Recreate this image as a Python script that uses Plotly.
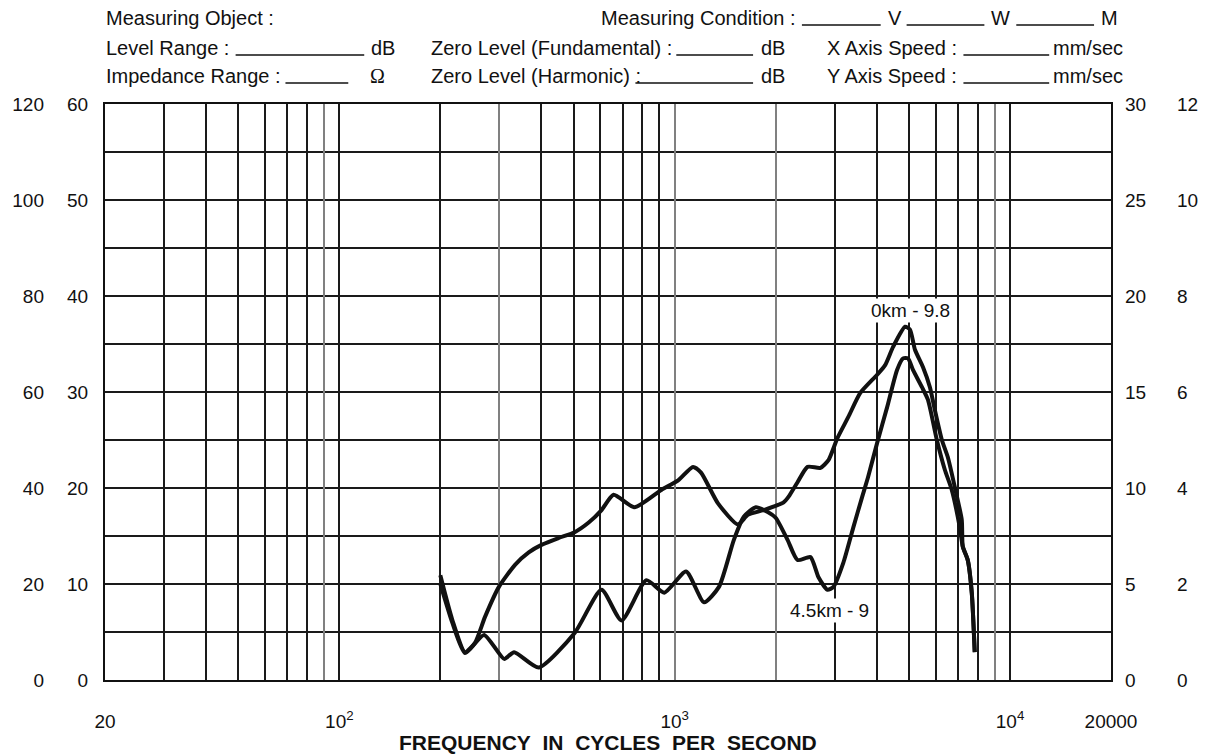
import math
import plotly.graph_objects as go

# ---------------- data ----------------
freq_0km = [200, 217, 237, 254, 272, 299, 334, 367, 402, 451, 503, 554, 605, 657, 758, 912,
            1024, 1134, 1198, 1346, 1543, 1652, 1843, 2112, 2186, 2324, 2490, 2720, 2874,
            3056, 3294, 3576, 4015, 4241, 4479, 4862, 5031, 5206, 5498, 5768, 5969, 6261,
            6524, 6842, 7177, 7228, 7478, 7687, 7846]
level_0km = [10.9, 6.3, 2.9, 3.9, 6.6, 9.7, 12.0, 13.3, 14.1, 14.8, 15.4, 16.4, 17.7, 19.3, 18.0, 19.8,
             20.8, 22.2, 21.6, 18.4, 16.2, 17.2, 17.7, 18.5, 19.1, 20.6, 22.2, 22.1, 22.9,
             25.2, 27.4, 29.9, 31.8, 32.8, 34.7, 36.8, 36.5, 34.4, 32.6, 30.5, 28.1, 25.0,
             23.2, 20.1, 16.7, 13.9, 12.5, 9.1, 2.9]

freq_45km = [200, 217, 237, 270, 310, 332, 393, 503, 605, 694, 823, 931, 1081, 1223, 1355, 1501,
             1607, 1745, 1894, 2000, 2170, 2324, 2540, 2684, 2854, 2974, 3182, 3409, 3624,
             3776, 4015, 4298, 4603, 4798, 4963, 5135, 5462, 5689, 6050, 6390, 6702, 7080,
             7228, 7478, 7687, 7846]
level_45km = [10.0, 6.0, 2.8, 4.7, 2.2, 2.9, 1.3, 4.9, 9.4, 6.2, 10.4, 9.1, 11.3, 8.1, 9.7, 14.6,
              17.0, 18.0, 17.5, 16.9, 14.6, 12.5, 12.8, 10.7, 9.4, 9.7, 12.2, 15.9, 19.1,
              21.2, 24.7, 28.4, 32.3, 33.5, 33.5, 32.3, 30.5, 29.2, 25.0, 21.9, 19.8, 15.9,
              13.9, 12.5, 9.1, 2.9]

series_names = ["0km - 9.8", "4.5km - 9"]

x_major = [20, 100, 1000, 10000, 20000]
x_major_text = ["20", "10<sup>2</sup>", "10<sup>3</sup>", "10<sup>4</sup>", "20000"]
# printed chart grid: most rulings dark, a few printed lighter
x_grid_dark = [30, 40, 50, 60, 70, 80, 100, 200, 400, 500, 600, 700, 800, 900,
               3000, 4000, 5000, 6000, 7000, 8000, 10000]
x_grid_light = [90, 300, 1000, 2000, 9000]

y_in_left = [0, 10, 20, 30, 40, 50, 60]
y_out_left = [0, 20, 40, 60, 80, 100, 120]
y_in_right = [0, 5, 10, 15, 20, 25, 30]
y_out_right = [0, 2, 4, 6, 8, 10, 12]
y_grid = [5, 10, 15, 20, 25, 30, 35, 40, 45, 50, 55]

x_title = "FREQUENCY&nbsp;&nbsp;IN&nbsp;&nbsp;CYCLES&nbsp;&nbsp;PER&nbsp;&nbsp;SECOND"

# ---------------- layout geometry (pixels) ----------------
W, H = 1211, 756
L, R, T, B = 102, 100, 104, 76
PW, PH = W - L - R, H - T - B
FONT = "Liberation Sans, Arial, sans-serif"
INK = "#111111"
GRID = "#1a1a1a"
GRID_LIGHT = "#808080"
XR = [math.log10(20), math.log10(20000)]


def px(x):
    return (x - L) / PW


def py(y):
    return (H - B - y) / PH


fig = go.Figure()

line_style = dict(color=INK, width=4, shape="spline", smoothing=0.6)
fig.add_trace(go.Scatter(x=freq_0km, y=level_0km, mode="lines", name=series_names[0],
                         line=line_style, showlegend=False))
fig.add_trace(go.Scatter(x=freq_45km, y=level_45km, mode="lines", name=series_names[1],
                         line=line_style, showlegend=False))
# empty traces that activate the extra scale / grid axes
fig.add_trace(go.Scatter(x=[], y=[], xaxis="x2", showlegend=False, hoverinfo="skip"))
for ax in ["y2", "y3", "y4"]:
    fig.add_trace(go.Scatter(x=[], y=[], yaxis=ax, showlegend=False, hoverinfo="skip"))

tickfont = dict(family=FONT, size=19, color=INK)

fig.update_layout(
    width=W, height=H,
    margin=dict(l=L, r=R, t=T, b=B, pad=0),
    paper_bgcolor="white", plot_bgcolor="white",
    font=dict(family=FONT, color=INK),
    xaxis=dict(type="log", range=XR,
               tickvals=x_major, ticktext=x_major_text,
               ticks="", tickfont=tickfont, ticklabelstandoff=23,
               showline=True, linecolor=INK, linewidth=2.2, mirror=True,
               showgrid=False,
               minor=dict(tickvals=x_grid_dark, showgrid=True, gridcolor=GRID, gridwidth=1.6, ticks=""),
               zeroline=False),
    xaxis2=dict(type="log", range=XR, overlaying="x", anchor="y",
                tickvals=x_grid_light, showticklabels=False, ticks="",
                showgrid=True, gridcolor=GRID_LIGHT, gridwidth=1.5, zeroline=False, showline=False),
    yaxis=dict(range=[0, 60], tickvals=y_in_left, ticktext=[str(v) for v in y_in_left],
               ticks="", tickfont=tickfont, ticklabelstandoff=11,
               showline=True, linecolor=INK, linewidth=2.2, mirror=True,
               showgrid=False,
               minor=dict(tickvals=y_grid, showgrid=True, gridcolor=GRID, gridwidth=1.6, ticks=""),
               zeroline=False),
    yaxis2=dict(range=[0, 120], overlaying="y", side="left", anchor="x",
                tickvals=y_out_left, ticktext=[str(v) for v in y_out_left],
                ticks="", tickfont=tickfont, ticklabelstandoff=60, showgrid=False, zeroline=False),
    yaxis3=dict(range=[0, 30], overlaying="y", side="right", anchor="x",
                tickvals=y_in_right, ticktext=[str(v) for v in y_in_right],
                ticks="", tickfont=tickfont, ticklabelstandoff=13, showgrid=False, zeroline=False),
    yaxis4=dict(range=[0, 12], overlaying="y", side="right", anchor="x",
                tickvals=y_out_right, ticktext=[str(v) for v in y_out_right],
                ticks="", tickfont=tickfont, ticklabelstandoff=65, showgrid=False, zeroline=False),
)

# curve labels
lab_font = dict(family=FONT, size=19, color=INK)
i_pk = max(range(len(level_0km)), key=lambda i: level_0km[i])
fig.add_annotation(x=math.log10(freq_0km[i_pk]), y=level_0km[i_pk], xshift=5, yshift=16,
                   text=series_names[0], showarrow=False, bgcolor="white", borderpad=1,
                   font=lab_font)
dip_range = [i for i, f in enumerate(freq_45km) if 2000 <= f <= 4000]
i_dip = min(dip_range, key=lambda i: level_45km[i])
fig.add_annotation(x=math.log10(freq_45km[i_dip]), y=level_45km[i_dip], xshift=2, yshift=-21,
                   text=series_names[1], showarrow=False, bgcolor="white", borderpad=1,
                   font=lab_font)

# axis title
fig.add_annotation(xref="paper", yref="paper", x=0.5, y=py(742), text="<b>" + x_title + "</b>",
                   showarrow=False, xanchor="center", yanchor="middle",
                   font=dict(family=FONT, size=21, color=INK))

# ---------------- header form ----------------
hfont = dict(family=FONT, size=20, color=INK)
rows = [18, 48, 76]


def htext(x, row, s, anchor="left", family=None):
    f = dict(hfont)
    if family:
        f["family"] = family
    fig.add_annotation(xref="paper", yref="paper", x=px(x), y=py(rows[row]), text=s,
                       showarrow=False, xanchor=anchor, yanchor="middle", font=f,
                       borderpad=0)


def hline(x0, x1, row):
    yb = rows[row] + 7
    fig.add_shape(type="line", xref="paper", yref="paper", x0=px(x0), x1=px(x1),
                  y0=py(yb), y1=py(yb), line=dict(color=INK, width=1.3))


htext(102, 0, "Measuring Object :")
htext(796, 0, "Measuring Condition :", anchor="right")
hline(801, 880, 0)
htext(886, 0, "V")
hline(906, 984, 0)
htext(990, 0, "W")
hline(1016, 1094, 0)
htext(1100, 0, "M")

htext(102, 1, "Level Range :")
hline(233, 362, 1)
htext(368, 1, "dB")
htext(428, 1, "Zero Level (Fundamental) :")
hline(675, 752, 1)
htext(759, 1, "dB")
htext(825, 1, "X Axis Speed :")
hline(963, 1049, 1)
htext(1124, 1, "mm/sec", anchor="right")

htext(102, 2, "Impedance Range :")
hline(283, 346, 2)
htext(367, 2, "Ω", family="Liberation Serif, Times New Roman, serif")
htext(428, 2, "Zero Level (Harmonic) :")
hline(634, 752, 2)
htext(759, 2, "dB")
htext(825, 2, "Y Axis Speed :")
hline(963, 1049, 2)
htext(1124, 2, "mm/sec", anchor="right")

fig.write_html("out.html", config={"displayModeBar": False},
               post_script="document.body.style.margin='0';")
